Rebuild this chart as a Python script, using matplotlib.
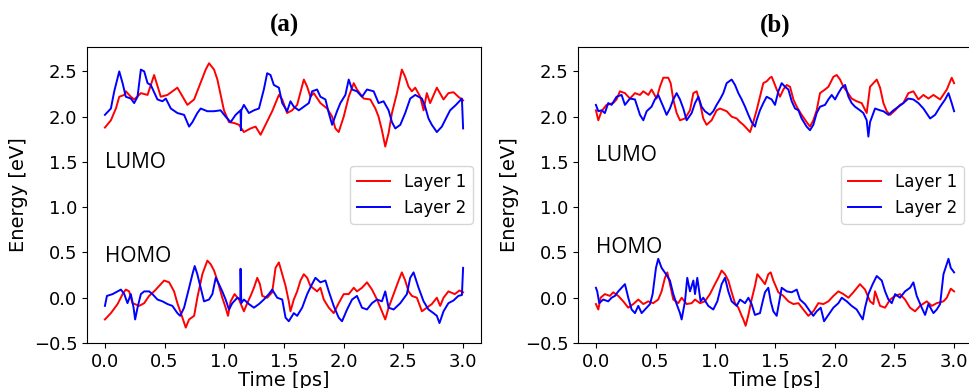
import matplotlib
matplotlib.use("Agg")
import matplotlib.pyplot as plt

# ---- panel (a) ----
a_lumo1_t = [0.000, 0.050, 0.092, 0.120, 0.162, 0.175, 0.217, 0.245, 0.301, 0.357, 0.412, 0.468, 0.524,
             0.607, 0.691, 0.747, 0.844, 0.872, 0.914, 0.942, 0.997, 1.039, 1.081, 1.123, 1.164, 1.220,
             1.262, 1.304, 1.345, 1.401, 1.457, 1.485, 1.526, 1.568, 1.610, 1.666, 1.694, 1.721, 1.749,
             1.805, 1.861, 1.903, 1.930, 1.958, 2.000, 2.042, 2.084, 2.111, 2.167, 2.223, 2.265, 2.292,
             2.320, 2.348, 2.376, 2.404, 2.446, 2.487, 2.515, 2.543, 2.571, 2.599, 2.641, 2.669, 2.696,
             2.724, 2.780, 2.836, 2.877, 2.920, 2.960, 3.000]
a_lumo1_e = [1.88, 1.96, 2.09, 2.22, 2.24, 2.28, 2.22, 2.19, 2.26, 2.24, 2.46, 2.22, 2.24,
             2.32, 2.13, 2.19, 2.52, 2.59, 2.52, 2.41, 2.07, 1.94, 1.93, 1.91, 1.83, 1.87,
             1.89, 1.80, 1.91, 2.06, 2.24, 2.19, 2.04, 2.07, 2.13, 2.41, 2.33, 2.22, 2.26,
             2.15, 2.09, 2.00, 1.87, 1.83, 2.00, 2.22, 2.37, 2.30, 2.20, 2.19, 2.09, 2.00,
             1.85, 1.67, 1.82, 2.04, 2.26, 2.52, 2.44, 2.33, 2.28, 2.32, 2.22, 2.07, 2.26,
             2.15, 2.32, 2.19, 2.26, 2.27, 2.22, 2.18]

a_lumo2_t = [0.000, 0.050, 0.078, 0.120, 0.148, 0.175, 0.217, 0.245, 0.273, 0.301, 0.329, 0.357, 0.384,
             0.440, 0.482, 0.510, 0.552, 0.607, 0.663, 0.705, 0.733, 0.774, 0.802, 0.858, 0.914, 0.969,
             1.011, 1.053, 1.095, 1.136, 1.139, 1.142, 1.164, 1.206, 1.248, 1.290, 1.331, 1.359, 1.387,
             1.415, 1.457, 1.485, 1.526, 1.554, 1.582, 1.624, 1.666, 1.708, 1.735, 1.777, 1.805, 1.847,
             1.875, 1.903, 1.944, 1.972, 2.014, 2.042, 2.070, 2.111, 2.153, 2.195, 2.251, 2.292, 2.334,
             2.376, 2.404, 2.432, 2.474, 2.515, 2.557, 2.599, 2.655, 2.682, 2.710, 2.738, 2.780, 2.822,
             2.864, 2.891, 2.940, 2.990, 3.000]
a_lumo2_e = [2.02, 2.09, 2.28, 2.50, 2.37, 2.22, 2.20, 2.15, 2.22, 2.52, 2.50, 2.37, 2.35,
             2.19, 2.17, 2.20, 2.09, 2.04, 2.02, 1.89, 1.94, 2.04, 2.09, 2.06, 2.06, 2.07,
             2.00, 1.94, 2.02, 2.07, 1.85, 2.07, 2.13, 2.04, 2.07, 2.09, 2.30, 2.48, 2.46,
             2.35, 2.32, 2.15, 2.06, 2.17, 2.11, 2.07, 2.11, 2.15, 2.28, 2.30, 2.22, 2.19,
             2.04, 1.91, 2.06, 2.15, 2.24, 2.41, 2.30, 2.28, 2.22, 2.30, 2.28, 2.15, 2.17,
             2.07, 1.94, 1.87, 1.91, 2.04, 2.20, 2.24, 2.20, 2.11, 1.98, 1.91, 1.83, 1.89,
             2.00, 2.07, 2.13, 2.20, 1.87]

a_homo1_t = [0.000, 0.050, 0.106, 0.148, 0.175, 0.203, 0.231, 0.287, 0.329, 0.370, 0.412, 0.454, 0.496,
             0.538, 0.579, 0.607, 0.649, 0.677, 0.705, 0.747, 0.774, 0.816, 0.858, 0.886, 0.914, 0.942,
             0.983, 1.011, 1.031, 1.053, 1.086, 1.123, 1.164, 1.192, 1.220, 1.248, 1.276, 1.298, 1.318,
             1.359, 1.401, 1.429, 1.457, 1.485, 1.513, 1.540, 1.554, 1.582, 1.610, 1.638, 1.666, 1.694,
             1.721, 1.777, 1.805, 1.833, 1.875, 1.916, 1.958, 2.000, 2.042, 2.084, 2.111, 2.153, 2.195,
             2.237, 2.279, 2.320, 2.348, 2.376, 2.418, 2.460, 2.487, 2.515, 2.543, 2.571, 2.613, 2.655,
             2.696, 2.738, 2.780, 2.808, 2.836, 2.877, 2.930, 2.970, 3.000]
a_homo1_e = [-0.24, -0.17, -0.07, 0.04, 0.09, 0.07, -0.06, -0.09, -0.06, 0.02, 0.07, 0.13, 0.19,
             0.17, 0.07, -0.06, -0.22, -0.33, -0.24, -0.20, 0.00, 0.26, 0.41, 0.37, 0.30, 0.19,
             0.00, -0.11, -0.20, -0.04, 0.04, -0.02, -0.15, -0.06, 0.02, 0.11, 0.22, 0.15, 0.02,
             0.00, 0.06, 0.33, 0.39, 0.26, 0.13, -0.04, -0.15, -0.02, 0.07, 0.19, 0.26, 0.22,
             0.13, 0.07, 0.11, -0.02, -0.11, -0.17, -0.06, 0.04, 0.04, 0.11, 0.07, 0.11, 0.17,
             0.09, -0.02, -0.15, -0.24, -0.11, 0.04, 0.19, 0.28, 0.19, 0.07, 0.02, 0.00, -0.15,
             -0.11, -0.07, 0.00, -0.09, 0.00, 0.07, 0.04, 0.08, 0.06]

a_homo2_t = [0.000, 0.017, 0.064, 0.106, 0.134, 0.162, 0.189, 0.217, 0.240, 0.253, 0.273, 0.301, 0.329,
             0.370, 0.398, 0.440, 0.482, 0.524, 0.565, 0.607, 0.630, 0.663, 0.705, 0.733, 0.752, 0.774,
             0.802, 0.830, 0.872, 0.900, 0.928, 0.955, 0.983, 1.011, 1.039, 1.067, 1.109, 1.134, 1.136,
             1.142, 1.164, 1.206, 1.248, 1.290, 1.331, 1.373, 1.401, 1.443, 1.485, 1.513, 1.540, 1.582,
             1.610, 1.652, 1.694, 1.735, 1.763, 1.805, 1.847, 1.875, 1.916, 1.958, 1.986, 2.028, 2.070,
             2.111, 2.153, 2.195, 2.237, 2.279, 2.320, 2.348, 2.376, 2.418, 2.474, 2.529, 2.557, 2.585,
             2.627, 2.669, 2.710, 2.752, 2.780, 2.802, 2.836, 2.877, 2.920, 2.960, 2.990, 3.000]
a_homo2_e = [-0.09, 0.02, 0.04, 0.07, 0.09, 0.04, -0.06, 0.04, -0.11, -0.24, -0.11, 0.04, 0.07,
             0.07, 0.04, -0.02, -0.04, -0.07, -0.09, -0.17, -0.20, -0.11, 0.11, 0.26, 0.35, 0.26,
             0.11, -0.04, -0.02, 0.04, 0.22, 0.15, 0.07, -0.02, -0.13, -0.06, 0.00, -0.02, 0.32,
             -0.06, -0.02, -0.07, -0.11, -0.07, -0.02, 0.04, 0.09, 0.00, -0.02, -0.22, -0.26, -0.17,
             -0.20, -0.11, 0.04, 0.15, 0.22, 0.17, 0.19, 0.07, -0.09, -0.22, -0.26, -0.13, -0.02,
             0.02, -0.11, -0.13, -0.06, -0.02, -0.04, 0.07, -0.11, -0.13, -0.06, 0.04, 0.22, 0.28,
             0.11, -0.04, -0.13, -0.17, -0.20, -0.28, -0.15, -0.06, -0.03, 0.02, 0.03, 0.33]

# ---- panel (b) ----
b_lumo1_t = [0.000, 0.020, 0.047, 0.089, 0.145, 0.173, 0.201, 0.243, 0.285, 0.327, 0.369, 0.397, 0.439,
             0.466, 0.508, 0.536, 0.564, 0.606, 0.626, 0.648, 0.676, 0.704, 0.746, 0.788, 0.816, 0.844,
             0.872, 0.899, 0.927, 0.969, 1.011, 1.039, 1.095, 1.137, 1.179, 1.207, 1.235, 1.263, 1.291,
             1.318, 1.346, 1.374, 1.402, 1.430, 1.458, 1.472, 1.500, 1.514, 1.542, 1.570, 1.598, 1.626,
             1.654, 1.682, 1.723, 1.765, 1.793, 1.821, 1.849, 1.877, 1.919, 1.947, 1.989, 2.017, 2.045,
             2.073, 2.101, 2.142, 2.184, 2.226, 2.268, 2.296, 2.324, 2.352, 2.380, 2.408, 2.436, 2.464,
             2.506, 2.547, 2.575, 2.617, 2.659, 2.701, 2.743, 2.785, 2.827, 2.883, 2.939, 2.980, 3.000]
b_lumo1_e = [2.07, 1.96, 2.06, 2.13, 2.15, 2.19, 2.28, 2.26, 2.20, 2.26, 2.24, 2.28, 2.24,
             2.30, 2.20, 2.33, 2.43, 2.43, 2.37, 2.19, 2.04, 1.96, 1.98, 2.07, 2.26, 2.28,
             2.15, 1.98, 1.91, 1.96, 2.07, 2.09, 2.06, 2.00, 1.98, 1.94, 1.91, 1.87, 1.83,
             1.94, 2.07, 2.22, 2.37, 2.39, 2.43, 2.44, 2.35, 2.30, 2.22, 2.30, 2.35, 2.33,
             2.19, 2.11, 2.02, 1.94, 1.89, 1.96, 2.07, 2.26, 2.30, 2.33, 2.44, 2.46, 2.41,
             2.33, 2.28, 2.20, 2.17, 2.15, 2.04, 2.33, 2.37, 2.41, 2.32, 2.15, 2.06, 2.02,
             2.07, 2.13, 2.15, 2.26, 2.28, 2.19, 2.24, 2.20, 2.24, 2.19, 2.30, 2.43, 2.37]

b_lumo2_t = [0.000, 0.020, 0.047, 0.075, 0.103, 0.131, 0.173, 0.215, 0.243, 0.285, 0.327, 0.369, 0.397,
             0.425, 0.466, 0.494, 0.522, 0.564, 0.592, 0.620, 0.648, 0.676, 0.704, 0.732, 0.760, 0.802,
             0.830, 0.858, 0.885, 0.913, 0.955, 0.983, 1.011, 1.039, 1.067, 1.095, 1.137, 1.165, 1.193,
             1.221, 1.249, 1.277, 1.304, 1.332, 1.346, 1.374, 1.402, 1.430, 1.472, 1.500, 1.528, 1.556,
             1.584, 1.612, 1.640, 1.668, 1.696, 1.723, 1.765, 1.793, 1.821, 1.849, 1.877, 1.919, 1.947,
             1.975, 2.003, 2.031, 2.059, 2.087, 2.115, 2.142, 2.170, 2.212, 2.240, 2.268, 2.282, 2.296,
             2.338, 2.380, 2.408, 2.450, 2.492, 2.534, 2.575, 2.617, 2.659, 2.701, 2.743, 2.799, 2.841,
             2.883, 2.925, 2.953, 2.980, 3.000]
b_lumo2_e = [2.13, 2.06, 2.07, 2.04, 2.15, 2.13, 2.22, 2.24, 2.13, 2.20, 2.19, 2.02, 1.96,
             2.06, 2.11, 2.19, 2.24, 2.11, 2.02, 2.09, 2.19, 2.26, 2.19, 2.09, 1.96, 2.04,
             2.15, 2.22, 2.11, 2.06, 2.02, 2.06, 2.13, 2.19, 2.26, 2.37, 2.41, 2.35, 2.26,
             2.19, 2.11, 2.02, 1.94, 1.89, 1.96, 2.07, 2.15, 2.22, 2.19, 2.13, 2.28, 2.37,
             2.33, 2.30, 2.17, 2.09, 2.07, 1.98, 1.89, 1.85, 1.91, 2.04, 2.11, 2.13, 2.19,
             2.24, 2.19, 2.26, 2.32, 2.35, 2.22, 2.15, 2.11, 2.07, 2.04, 1.96, 1.78, 1.94,
             2.09, 2.07, 2.06, 2.02, 2.07, 2.11, 2.15, 2.20, 2.19, 2.15, 2.09, 1.98, 2.02,
             2.11, 2.19, 2.26, 2.15, 2.06]

b_homo1_t = [0.000, 0.020, 0.039, 0.075, 0.117, 0.145, 0.187, 0.229, 0.271, 0.313, 0.355, 0.397, 0.439,
             0.480, 0.522, 0.550, 0.578, 0.598, 0.620, 0.648, 0.690, 0.718, 0.760, 0.802, 0.830, 0.872,
             0.913, 0.955, 0.997, 1.025, 1.053, 1.081, 1.109, 1.137, 1.165, 1.193, 1.221, 1.235, 1.254,
             1.277, 1.304, 1.332, 1.352, 1.388, 1.416, 1.444, 1.464, 1.486, 1.528, 1.570, 1.612, 1.654,
             1.696, 1.737, 1.779, 1.821, 1.863, 1.905, 1.947, 1.989, 2.031, 2.073, 2.115, 2.156, 2.212,
             2.254, 2.296, 2.324, 2.338, 2.380, 2.422, 2.464, 2.506, 2.547, 2.589, 2.631, 2.673, 2.715,
             2.771, 2.813, 2.855, 2.911, 2.939, 2.972, 3.000]
b_homo1_e = [-0.07, -0.13, 0.00, 0.04, 0.02, 0.06, 0.02, -0.04, -0.11, -0.07, -0.02, -0.07, -0.04,
             -0.06, -0.02, 0.07, 0.22, 0.28, 0.15, -0.02, -0.06, 0.00, -0.07, -0.06, -0.02, -0.06,
             -0.04, 0.04, 0.15, 0.22, 0.30, 0.26, 0.19, 0.06, -0.06, -0.11, -0.20, -0.24, -0.31,
             -0.19, -0.02, 0.13, 0.26, 0.20, 0.15, 0.26, 0.28, 0.19, 0.06, 0.02, -0.04, -0.07,
             -0.06, -0.13, -0.20, -0.15, -0.06, -0.07, -0.04, 0.02, 0.07, 0.04, 0.00, 0.06, 0.15,
             0.09, -0.04, -0.07, 0.07, -0.09, -0.11, -0.02, 0.02, 0.04, -0.02, -0.11, -0.15, -0.09,
             -0.04, -0.09, -0.06, -0.04, 0.00, 0.10, 0.07]

b_homo2_t = [0.000, 0.011, 0.028, 0.061, 0.103, 0.131, 0.159, 0.187, 0.215, 0.243, 0.271, 0.299, 0.327,
             0.355, 0.383, 0.425, 0.453, 0.475, 0.503, 0.522, 0.550, 0.587, 0.620, 0.648, 0.676, 0.704,
             0.718, 0.746, 0.765, 0.788, 0.816, 0.830, 0.849, 0.877, 0.899, 0.941, 0.983, 1.017, 1.053,
             1.081, 1.109, 1.137, 1.179, 1.207, 1.249, 1.277, 1.304, 1.332, 1.374, 1.397, 1.416, 1.444,
             1.464, 1.486, 1.514, 1.536, 1.556, 1.598, 1.640, 1.682, 1.709, 1.751, 1.793, 1.821, 1.849,
             1.883, 1.911, 1.947, 1.989, 2.031, 2.059, 2.101, 2.142, 2.184, 2.235, 2.254, 2.282, 2.318,
             2.352, 2.394, 2.422, 2.450, 2.478, 2.506, 2.547, 2.589, 2.631, 2.659, 2.687, 2.729, 2.757,
             2.785, 2.827, 2.855, 2.883, 2.911, 2.953, 2.972, 3.000]
b_homo2_e = [0.11, 0.07, -0.06, -0.02, -0.04, 0.00, 0.02, 0.07, 0.11, 0.15, 0.00, -0.13, -0.17,
             -0.09, -0.17, -0.11, -0.07, 0.04, 0.33, 0.43, 0.33, 0.26, 0.19, 0.04, -0.07, -0.17,
             -0.24, -0.04, 0.22, 0.07, 0.19, 0.04, 0.22, -0.04, 0.00, -0.09, -0.13, -0.04, 0.15,
             0.22, 0.07, -0.04, -0.09, -0.02, -0.06, 0.00, -0.07, -0.19, -0.17, -0.04, 0.06, 0.11,
             -0.04, -0.15, -0.20, -0.04, 0.11, 0.07, 0.06, 0.09, -0.02, -0.07, -0.15, -0.20, -0.15,
             -0.11, -0.26, -0.19, -0.11, -0.06, 0.00, -0.04, -0.09, -0.13, -0.24, -0.11, 0.04, 0.15,
             0.24, 0.19, 0.07, -0.02, -0.06, 0.04, 0.00, 0.07, 0.11, 0.17, 0.02, -0.11, -0.19,
             -0.07, -0.17, -0.13, -0.07, 0.26, 0.43, 0.33, 0.28]

panels = [
    ("(a)", a_lumo1_t, a_lumo1_e, a_lumo2_t, a_lumo2_e, a_homo1_t, a_homo1_e, a_homo2_t, a_homo2_e,
     (0.0, 1.43), (0.0, 0.40)),
    ("(b)", b_lumo1_t, b_lumo1_e, b_lumo2_t, b_lumo2_e, b_homo1_t, b_homo1_e, b_homo2_t, b_homo2_e,
     (0.0, 1.51), (0.0, 0.49)),
]

fig = plt.figure(figsize=(9.69, 3.88), dpi=100)
lefts = [0.0898, 0.5965]

for left, (title, l1t, l1e, l2t, l2e, h1t, h1e, h2t, h2e, lumo_xy, homo_xy) in zip(lefts, panels):
    ax = fig.add_axes([left, 0.116, 0.4066, 0.763])
    ax.plot(l1t, l1e, color='r', lw=1.4, label='Layer 1')
    ax.plot(l2t, l2e, color='b', lw=1.4, label='Layer 2')
    ax.plot(h1t, h1e, color='r', lw=1.4)
    ax.plot(h2t, h2e, color='b', lw=1.4)

    ax.set_ylim(-0.5, 2.77)
    ax.set_xticks([0.0, 0.5, 1.0, 1.5, 2.0, 2.5, 3.0])
    ax.set_yticks([-0.5, 0.0, 0.5, 1.0, 1.5, 2.0, 2.5])
    ax.tick_params(labelsize=13)
    ax.set_xlabel('Time [ps]', fontsize=14, labelpad=0)
    ax.set_ylabel('Energy [eV]', fontsize=14)

    ax.text(lumo_xy[0], lumo_xy[1], 'LUMO', fontsize=15, family='Open Sans',
            fontweight='medium', va='baseline')
    ax.text(homo_xy[0], homo_xy[1], 'HOMO', fontsize=15, family='Open Sans',
            fontweight='medium', va='baseline')

    ax.legend(loc='center right', fontsize=12)
    ax.set_title(title, fontsize=18, fontweight='bold', family='Liberation Serif', pad=11)

fig.savefig('out.png', dpi=100)
